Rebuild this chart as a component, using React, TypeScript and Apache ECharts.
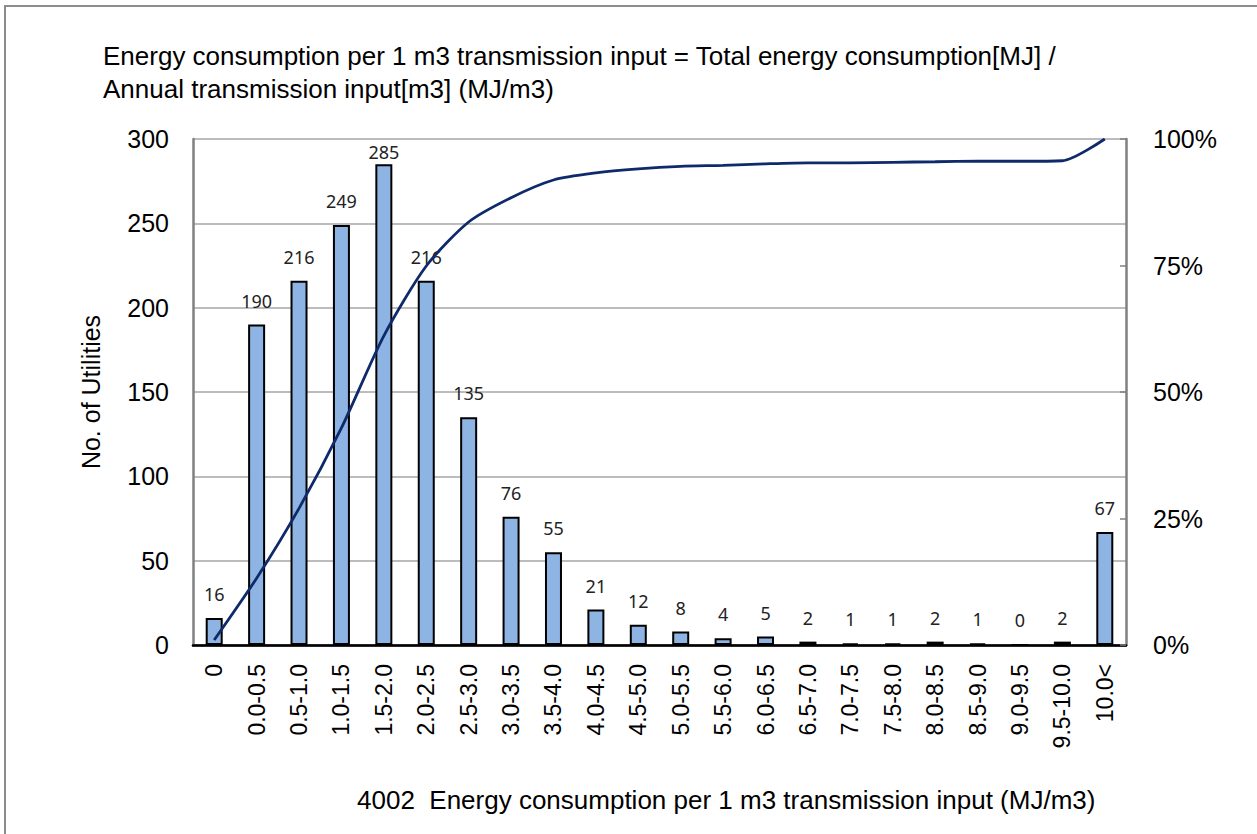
import React, { useEffect, useRef } from "react";
import * as echarts from "echarts";

const categories = [
  "0", "0.0-0.5", "0.5-1.0", "1.0-1.5", "1.5-2.0", "2.0-2.5", "2.5-3.0", "3.0-3.5",
  "3.5-4.0", "4.0-4.5", "4.5-5.0", "5.0-5.5", "5.5-6.0", "6.0-6.5", "6.5-7.0",
  "7.0-7.5", "7.5-8.0", "8.0-8.5", "8.5-9.0", "9.0-9.5", "9.5-10.0", "10.0<",
];
const counts = [16, 190, 216, 249, 285, 216, 135, 76, 55, 21, 12, 8, 4, 5, 2, 1, 1, 2, 1, 0, 2, 67];
const cumulativePct = [
  1.0, 13.2, 27.0, 42.9, 61.1, 74.9, 83.6, 88.4, 91.9, 93.3, 94.1, 94.6, 94.8, 95.1,
  95.3, 95.3, 95.4, 95.5, 95.6, 95.6, 95.7, 100,
];
const titleLines = [
  "Energy consumption per 1 m3 transmission input = Total energy consumption[MJ] /",
  "Annual transmission input[m3] (MJ/m3)",
];
const yAxisName = "No. of Utilities";
const xAxisName = "4002\u00a0\u00a0Energy consumption per 1 m3 transmission input (MJ/m3)";

const FONT = "'Liberation Sans', Arial, sans-serif";
const LABEL_FONT = "'Noto Sans', 'Open Sans', sans-serif";

export default function App() {
  const ref = useRef<HTMLDivElement>(null);
  useEffect(() => {
    if (!ref.current) return;
    const chart = echarts.init(ref.current, null, { renderer: "svg" });
    const barData = counts.map((v) =>
      v > 270 ? { value: v, label: { distance: 3 } } : v
    );
    chart.setOption({
      animation: false,
      backgroundColor: "#ffffff",
      title: {
        text: titleLines.join("\n"),
        left: 103,
        top: 39,
        padding: 0,
        textStyle: { fontFamily: FONT, fontSize: 26, fontWeight: "normal", color: "#000", lineHeight: 33 },
      },
      graphic: [
        {
          type: "rect",
          shape: { x: 5, y: 6, width: 1300, height: 900 },
          style: { fill: "none", stroke: "#8c8c8c", lineWidth: 2 },
          silent: true,
        },
        {
          type: "text",
          left: 357,
          top: 787,
          style: { text: xAxisName, fontFamily: FONT, fontSize: 26, fill: "#000" },
        },
      ],
      grid: { left: 193, top: 139, right: 131, bottom: 189, containLabel: false },
      xAxis: [
        {
          type: "category",
          data: categories,
          position: "bottom",
          axisLine: { show: true, lineStyle: { color: "#808080", width: 2.5 } },
          axisTick: { show: false },
          axisLabel: { rotate: 90, fontFamily: FONT, fontSize: 23, color: "#000", margin: 19, interval: 0 },
          splitLine: { show: false },
        },
        {
          type: "category",
          data: categories,
          position: "top",
          axisLine: { show: true, lineStyle: { color: "#000", width: 2.5 } },
          axisTick: { show: false },
          axisLabel: { show: false },
        },
      ],
      yAxis: [
        {
          type: "value",
          min: 0,
          max: 300,
          interval: 50,
          name: yAxisName,
          nameLocation: "middle",
          nameGap: 90,
          nameTextStyle: { fontFamily: FONT, fontSize: 25, color: "#000" },
          axisLine: { show: true, lineStyle: { color: "#808080", width: 2.5 } },
          axisTick: { show: false },
          axisLabel: { fontFamily: FONT, fontSize: 25, color: "#000", margin: 24 },
          splitLine: { show: true, lineStyle: { color: "#a6a6a6", width: 1.5 } },
        },
        {
          type: "value",
          min: 0,
          max: 1,
          interval: 0.25,
          position: "right",
          axisLine: { show: true, lineStyle: { color: "#808080", width: 2.5 } },
          axisTick: { show: true, inside: true, length: 6, lineStyle: { color: "#808080", width: 1.5 } },
          axisLabel: {
            fontFamily: FONT,
            fontSize: 25,
            color: "#000",
            margin: 27,
            formatter: (v: number) => Math.round(v * 100) + "%",
          },
          splitLine: { show: false },
        },
      ],
      series: [
        {
          type: "bar",
          data: barData,
          xAxisIndex: 0,
          yAxisIndex: 0,
          barWidth: 17,
          itemStyle: { color: "#8db4e2", borderColor: "#000", borderWidth: 2 },
          label: {
            show: true,
            position: "top",
            distance: 15,
            fontFamily: LABEL_FONT,
            fontSize: 18,
            color: "#222",
          },
          z: 2,
        },
        {
          type: "line",
          data: cumulativePct.map((v) => v / 100),
          xAxisIndex: 0,
          yAxisIndex: 1,
          smooth: 0.25,
          symbol: "none",
          lineStyle: { color: "#0f2a6b", width: 2.8 },
          z: 3,
        },
      ],
    });
    return () => chart.dispose();
  }, []);
  return (
    <div
      ref={ref}
      style={{ position: "absolute", left: 0, top: 0, width: 1257, height: 834 }}
    />
  );
}
